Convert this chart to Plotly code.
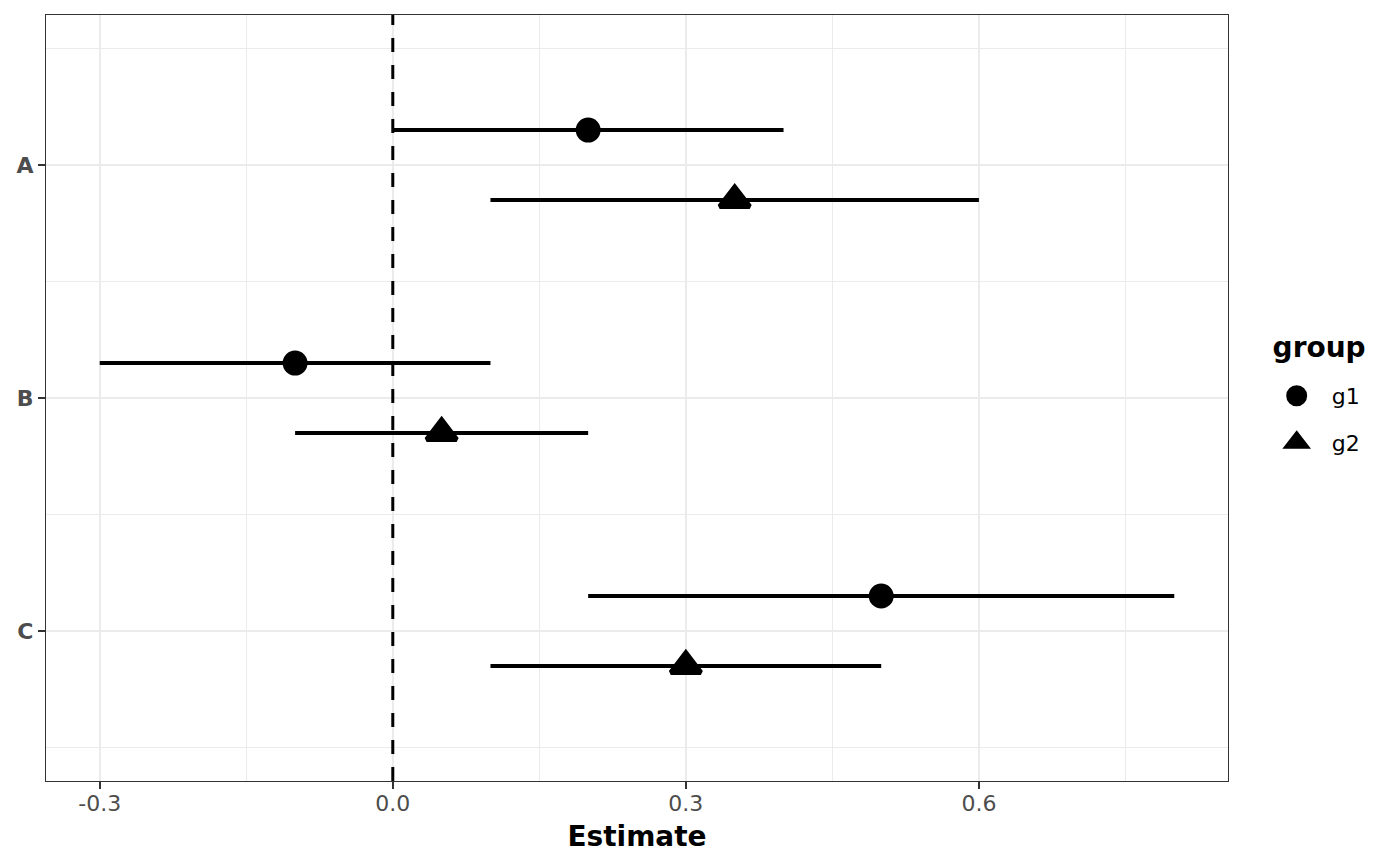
import plotly.graph_objects as go

terms = ["A", "B", "C"]
groups = ["g1", "g2"]
estimate_g1 = [0.2, -0.1, 0.5]
low_g1 = [0.0, -0.3, 0.2]
high_g1 = [0.4, 0.1, 0.8]
estimate_g2 = [0.35, 0.05, 0.3]
low_g2 = [0.1, -0.1, 0.1]
high_g2 = [0.6, 0.2, 0.5]

x_ticks = [-0.3, 0.0, 0.3, 0.6]
x_ticklabels = ["-0.3", "0.0", "0.3", "0.6"]
x_minor = [-0.15, 0.15, 0.45, 0.75]

dodge = 0.15
pos = {t: i + 1 for i, t in enumerate(terms)}

FONT = "DejaVu Sans"
fig = go.Figure()

series = [
    ("g1", estimate_g1, low_g1, high_g1, "circle", -dodge, 20),
    ("g2", estimate_g2, low_g2, high_g2, "triangle-up", dodge, 26),
]
for name, est, lo, hi, sym, off, size in series:
    ys = [pos[t] + off for t in terms]
    fig.add_trace(go.Scatter(
        x=est, y=ys, mode="markers", name=name, legendgroup=name,
        marker=dict(symbol=sym, size=size, color="black",
                    line=dict(color="black", width=5)),
        error_x=dict(type="data", symmetric=False,
                     array=[h - e for h, e in zip(hi, est)],
                     arrayminus=[e - l for e, l in zip(est, lo)],
                     width=0, thickness=4, color="black"),
    ))

fig.add_shape(type="line", xref="x", yref="paper", x0=0, x1=0, y0=0, y1=1,
              line=dict(color="black", width=3, dash="14px,13px"), layer="above")

fig.update_layout(
    width=1392, height=858,
    margin=dict(l=38, r=172, t=7, b=85),
    paper_bgcolor="white", plot_bgcolor="white",
    font=dict(family=FONT, size=23, color="#4D4D4D"),
    showlegend=True,
    legend=dict(
        title=dict(text="<span style='font-size:28px'>&nbsp;<b>group</b></span><br>&nbsp;",
                   font=dict(family=FONT, size=14, color="black")),
        font=dict(family=FONT, size=22, color="black"),
        x=1.0285, xanchor="left", y=0.496, yanchor="middle",
        tracegroupgap=15, traceorder="grouped", itemwidth=60,
        bgcolor="rgba(0,0,0,0)",
    ),
    xaxis=dict(
        range=[-0.355, 0.855],
        tickvals=x_ticks, ticktext=x_ticklabels,
        ticks="outside", ticklen=7, tickwidth=1.5, tickcolor="#333333",
        tickfont=dict(family=FONT, size=22, color="#4D4D4D"),
        ticklabelstandoff=-5,
        showgrid=True, gridcolor="#EBEBEB", gridwidth=2,
        minor=dict(tickvals=x_minor, showgrid=True, gridcolor="#EBEBEB", gridwidth=1, ticks=""),
        zeroline=False,
        showline=True, mirror=True, linecolor="#333333", linewidth=1.3,
        title=dict(text="<b>Estimate</b>", font=dict(family=FONT, size=28, color="black"), standoff=11),
    ),
    yaxis=dict(
        range=[3.644, 0.356],
        tickvals=[pos[t] for t in terms], ticktext=["<b>%s</b>" % t for t in terms],
        ticks="outside", ticklen=7, tickwidth=1.5, tickcolor="#333333",
        tickfont=dict(family=FONT, size=22, color="#4D4D4D"),
        showgrid=True, gridcolor="#EBEBEB", gridwidth=2,
        minor=dict(tickvals=[0.5, 1.5, 2.5, 3.5], showgrid=True, gridcolor="#EBEBEB", gridwidth=1, ticks=""),
        zeroline=False,
        showline=True, mirror=True, linecolor="#333333", linewidth=1.3,
    ),
)

fig.write_html("out.html")
